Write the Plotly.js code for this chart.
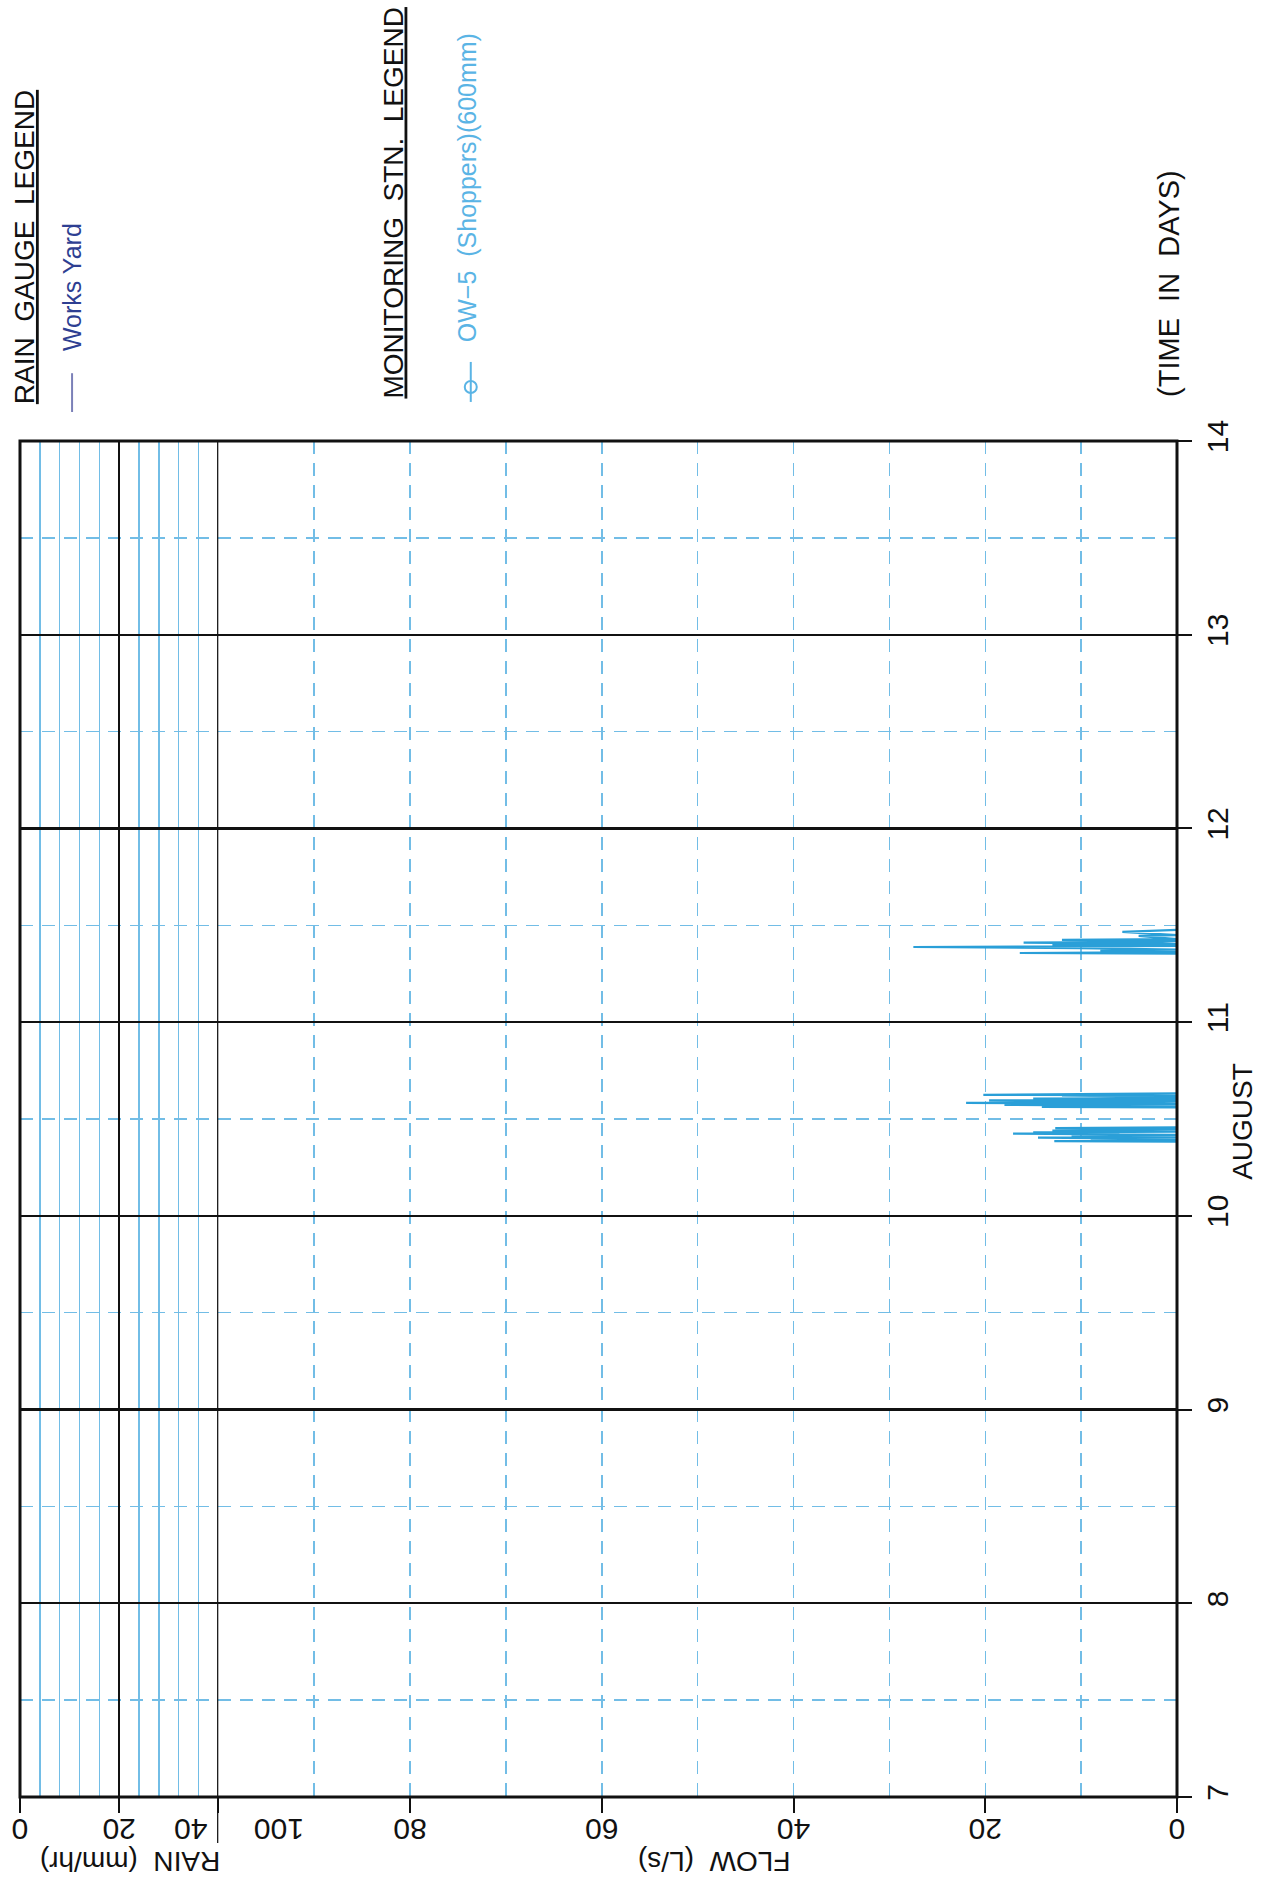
<!DOCTYPE html>
<html>
<head>
<meta charset="utf-8">
<script src="https://cdn.plot.ly/plotly-3.0.1.min.js"></script>
<style>
  html, body { margin: 0; padding: 0; background: #ffffff; }
  #chart { width: 1266px; height: 1902px; }
</style>
</head>
<body>
<div id="chart"></div>
<script>
// ---- data (time in days of August, flow in L/s) ----
const dayTicks = [7, 8, 9, 10, 11, 12, 13, 14];
const dayTickText = ['7', '8', '9', '10', '11', '12', '13', '14'];
const flowTicks = [0, 20, 40, 60, 80, 100];
const flowTickText = ['0', '20', '40', '60', '80', ''];
const rainTicks = [0, 20, 40];
const rainTickText = ['0', '20', ''];

// OW-5 (Shoppers)(600mm) flow record
const flowDay = [
  10.383, 10.386, 10.389, 10.394, 10.397, 10.404, 10.408, 10.415, 10.418, 10.424, 10.427, 10.431, 10.435, 10.440, 10.443, 10.445, 10.448, 10.453, 10.457, null,
  10.560, 10.563, 10.566, 10.573, 10.577, 10.583, 10.587, 10.590, 10.596, 10.600, 10.605, 10.608, 10.612, 10.615, 10.620, 10.623, 10.625, 10.629, 10.633, null,
  11.353, 11.357, 11.362, 11.370, 11.374, 11.382, 11.388, 11.393, 11.400, 11.404, 11.410, 11.414, 11.420, 11.425, 11.429, 11.445, 11.449, 11.466, 11.476
];
const flowLps = [
  0, 12.8, 0, 9, 0, 14.5, 0, 11, 0, 17.1, 6, 15, 0, 13, 0, 5.7, 0, 12.7, 0, null,
  0, 14.1, 0, 18, 0, 22, 3, 0, 19.6, 0, 15, 0, 4, 0, 12, 0, 20.2, 2, 0, null,
  0, 16.4, 0, 8, 0, 10, 27.5, 0, 13, 0, 16, 2, 0, 12, 0, 4, 0, 5.7, 0
];

// Works Yard rain gauge (no rainfall recorded in the period)
const rainDay = [];
const rainMmHr = [];

// ---- styling ----
const FONT = 'Liberation Sans, Arial, Helvetica, sans-serif';
const INK = '#111111';
const GRID_BLUE = '#72bde6';
const TRACE_BLUE = '#2a9fd8';
const DASH = '13px,9px';
const TICK_SIZE = 30;

const traces = [
  {
    type: 'scatter', mode: 'lines',
    x: flowLps, y: flowDay, xaxis: 'x', yaxis: 'y',
    connectgaps: false,
    line: { color: TRACE_BLUE, width: 2.2 },
    name: 'OW-5 (Shoppers)(600mm)', hoverinfo: 'skip'
  },
  {
    type: 'bar', orientation: 'h',
    x: rainMmHr, y: rainDay, xaxis: 'x2', yaxis: 'y',
    marker: { color: '#3a4a9a' }, name: 'Works Yard'
  }
];

const layout = {
  width: 1266, height: 1902,
  margin: { l: 20, r: 89, t: 441, b: 105, pad: 0 },
  paper_bgcolor: '#ffffff', plot_bgcolor: '#ffffff',
  showlegend: false,
  font: { family: FONT, size: TICK_SIZE, color: INK },
  xaxis: {
    domain: [0.1714, 1], range: [100, 0], anchor: 'y',
    tickmode: 'array', tickvals: flowTicks, ticktext: flowTickText,
    tickangle: 180,
    ticks: 'outside', ticklen: 15, tickwidth: 2, tickcolor: INK,
    tickfont: { family: FONT, size: TICK_SIZE, color: INK },
    showgrid: true, gridcolor: GRID_BLUE, gridwidth: 1.5, griddash: DASH,
    minor: { tickmode: 'linear', tick0: 0, dtick: 10, showgrid: true,
             gridcolor: GRID_BLUE, gridwidth: 1.5, griddash: DASH, ticks: '' },
    zeroline: false, showline: false, fixedrange: true
  },
  xaxis2: {
    domain: [0, 0.1714], range: [0, 40], anchor: 'y',
    tickmode: 'array', tickvals: rainTicks, ticktext: rainTickText,
    tickangle: 180,
    ticks: 'outside', ticklen: 15, tickwidth: 2, tickcolor: INK,
    tickfont: { family: FONT, size: TICK_SIZE, color: INK },
    showgrid: true, gridcolor: INK, gridwidth: 2.2,
    minor: { tickmode: 'linear', tick0: 0, dtick: 4, showgrid: true,
             gridcolor: GRID_BLUE, gridwidth: 1.6, ticks: '' },
    zeroline: false, showline: false, fixedrange: true
  },
  yaxis: {
    domain: [0, 1], range: [7, 14], anchor: 'x', side: 'right',
    tickmode: 'array', tickvals: dayTicks, ticktext: dayTickText,
    tickangle: -90,
    ticks: 'outside', ticklen: 14, tickwidth: 2, tickcolor: INK,
    tickfont: { family: FONT, size: TICK_SIZE, color: INK },
    showgrid: true, gridcolor: INK, gridwidth: 2.2,
    minor: { tickmode: 'linear', tick0: 7, dtick: 0.5, showgrid: true,
             gridcolor: GRID_BLUE, gridwidth: 1.5, griddash: DASH, ticks: '' },
    zeroline: false, showline: false, fixedrange: true
  },
  shapes: [
    // outer frame
    { type: 'rect', xref: 'paper', yref: 'paper', x0: 0, x1: 1, y0: 0, y1: 1,
      line: { color: INK, width: 3 }, layer: 'above' },
    // divider between rain strip and flow panel (extends below the axis)
    { type: 'line', xref: 'x2', yref: 'paper', x0: 40, x1: 40, y0: -0.034, y1: 1,
      line: { color: INK, width: 2.5 }, layer: 'above' },
    // legend keys
    { type: 'line', xref: 'paper', yref: 'paper', x0: 0.0450, x1: 0.0450, y0: 1.0214, y1: 1.0500,
      line: { color: '#7b80b8', width: 2 } },
    { type: 'line', xref: 'paper', yref: 'paper', x0: 0.3896, x1: 0.3896, y0: 1.0288, y1: 1.0583,
      line: { color: '#5ab4e5', width: 2 } },
    { type: 'circle', xref: 'paper', yref: 'paper', xsizemode: 'pixel', ysizemode: 'pixel',
      xanchor: 0.3896, yanchor: 1.0398, x0: -6, x1: 6, y0: -6, y1: 6,
      line: { color: '#5ab4e5', width: 2 }, fillcolor: 'rgba(0,0,0,0)' }
  ],
  annotations: [
    // shifted tick labels at the strip boundary
    { text: '100', xref: 'paper', yref: 'paper', x: 0.2234, y: -0.0245, showarrow: false,
      textangle: 180, xanchor: 'center', yanchor: 'middle', font: { family: FONT, size: TICK_SIZE, color: INK } },
    { text: '40', xref: 'paper', yref: 'paper', x: 0.148, y: -0.0245, showarrow: false,
      textangle: 180, xanchor: 'center', yanchor: 'middle', font: { family: FONT, size: TICK_SIZE, color: INK } },
    // axis titles (upside down, as on the rotated sheet)
    { text: 'RAIN\u00a0\u00a0(mm/hr)', xref: 'paper', yref: 'paper', x: 0.0952, y: -0.048, showarrow: false,
      textangle: 180, xanchor: 'center', yanchor: 'middle', font: { family: FONT, size: 28, color: INK } },
    { text: 'FLOW\u00a0\u00a0(L/s)', xref: 'paper', yref: 'paper', x: 0.600, y: -0.048, showarrow: false,
      textangle: 180, xanchor: 'center', yanchor: 'middle', font: { family: FONT, size: 28, color: INK } },
    // time axis titles
    { text: '(TIME\u00a0\u00a0IN\u00a0\u00a0DAYS)', xref: 'paper', yref: 'paper', x: 0.993, y: 1.1165, showarrow: false,
      textangle: -90, xanchor: 'center', yanchor: 'middle', font: { family: FONT, size: 29, color: INK } },
    { text: 'AUGUST', xref: 'paper', yref: 'paper', x: 1.056, y: 0.4985, showarrow: false,
      textangle: -90, xanchor: 'center', yanchor: 'middle', font: { family: FONT, size: 28, color: INK } },
    // legends
    { text: '<u>RAIN\u00a0\u00a0GAUGE\u00a0\u00a0LEGEND</u>', xref: 'paper', yref: 'paper', x: 0.0035, y: 1.143, showarrow: false,
      textangle: -90, xanchor: 'center', yanchor: 'middle', font: { family: FONT, size: 28, color: INK } },
    { text: 'Works Yard', xref: 'paper', yref: 'paper', x: 0.045, y: 1.1136, showarrow: false,
      textangle: -90, xanchor: 'center', yanchor: 'middle', font: { family: FONT, size: 25, color: '#2e3f92' } },
    { text: '<u>MONITORING\u00a0\u00a0STN.\u00a0\u00a0LEGEND</u>', xref: 'paper', yref: 'paper', x: 0.322, y: 1.1755, showarrow: false,
      textangle: -90, xanchor: 'center', yanchor: 'middle', font: { family: FONT, size: 28, color: INK } },
    { text: 'OW\u22125\u00a0\u00a0(Shoppers)(600mm)', xref: 'paper', yref: 'paper', x: 0.387, y: 1.187, showarrow: false,
      textangle: -90, xanchor: 'center', yanchor: 'middle', font: { family: FONT, size: 25, color: '#5ab4e5' } }
  ]
};

Plotly.newPlot('chart', traces, layout, { staticPlot: true, displayModeBar: false });
</script>
</body>
</html>
